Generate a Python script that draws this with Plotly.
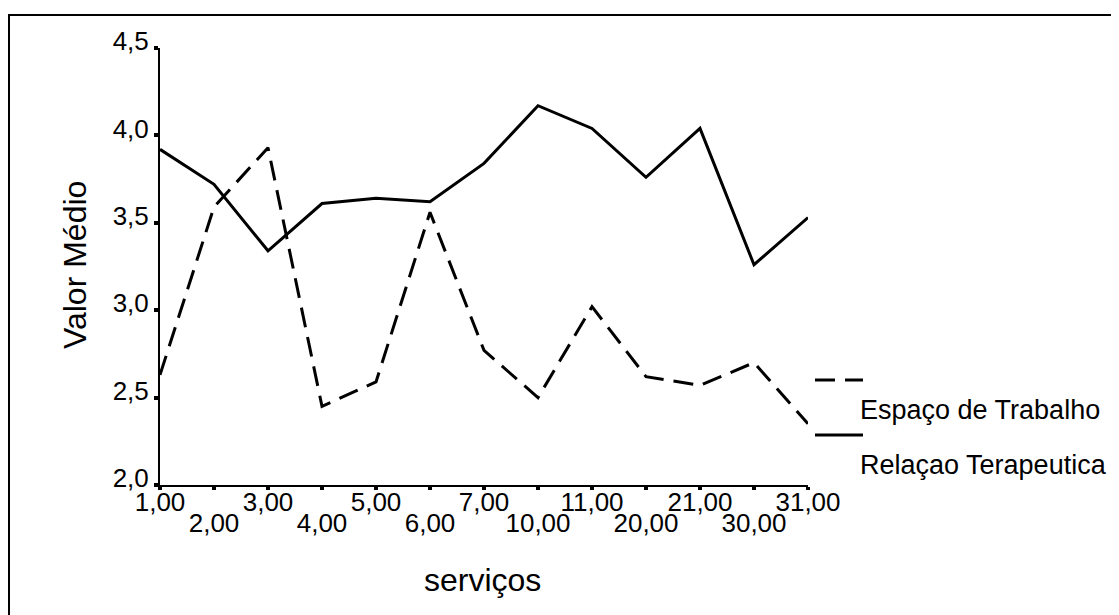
import plotly.graph_objects as go

categories = ["1,00", "2,00", "3,00", "4,00", "5,00", "6,00", "7,00",
              "10,00", "11,00", "20,00", "21,00", "30,00", "31,00"]
espaco_trabalho = [2.63, 3.59, 3.93, 2.45, 2.59, 3.56, 2.77, 2.50, 3.02, 2.62, 2.57, 2.70, 2.35]
relacao_terapeutica = [3.92, 3.72, 3.34, 3.61, 3.64, 3.62, 3.84, 4.17, 4.04, 3.76, 4.04, 3.26, 3.53]
y_tick_vals = [2.0, 2.5, 3.0, 3.5, 4.0, 4.5]
y_tick_text = ["2,0", "2,5", "3,0", "3,5", "4,0", "4,5"]
legend_names = ["Espaço de Trabalho", "Relaçao Terapeutica"]

FONT = "Liberation Sans, Arial, sans-serif"
x_idx = list(range(len(categories)))
row2_vals = [i for i in x_idx if i % 2 == 1]
row2_text = [categories[i] for i in row2_vals]
row1_text = [categories[i] if i % 2 == 0 else "" for i in x_idx]

fig = go.Figure()
fig.add_trace(go.Scatter(x=x_idx, y=espaco_trabalho, mode="lines", name=legend_names[0],
                         line=dict(color="black", width=3, dash="20px,10px"),
                         showlegend=False, xaxis="x2"))
fig.add_trace(go.Scatter(x=x_idx, y=relacao_terapeutica, mode="lines", name=legend_names[1],
                         line=dict(color="black", width=3),
                         showlegend=False))

W, H = 1119, 615
OFF = 8  # page margin around the figure in the browser window
PW, PH = 648, 437
L, T = 160 - OFF, 48 - OFF
R, B = W - L - PW, H - T - PH

def px(xp):
    return (xp - OFF - L) / PW

def py(yp):
    return (T + PH - (yp - OFF)) / PH

shapes = [
    dict(type="rect", xref="paper", yref="paper", x0=px(9), x1=px(1140), y0=py(650), y1=py(15),
         line=dict(color="black", width=2), layer="below"),
    dict(type="line", xref="paper", yref="paper", x0=px(815), x1=px(863), y0=py(380), y1=py(380),
         line=dict(color="black", width=3, dash="20px,10px")),
    dict(type="line", xref="paper", yref="paper", x0=px(815), x1=px(863), y0=py(435), y1=py(435),
         line=dict(color="black", width=3)),
]
annotations = [
    dict(xref="paper", yref="paper", x=px(858), y=py(410), text=legend_names[0], showarrow=False,
         xanchor="left", yanchor="middle", font=dict(family=FONT, size=27, color="black")),
    dict(xref="paper", yref="paper", x=px(858), y=py(465), text=legend_names[1], showarrow=False,
         xanchor="left", yanchor="middle", font=dict(family=FONT, size=27, color="black")),
    dict(xref="paper", yref="paper", x=px(75), y=py(265), text="Valor Médio", showarrow=False,
         textangle=-90, xanchor="center", yanchor="middle",
         font=dict(family=FONT, size=32, color="black")),
    dict(xref="paper", yref="paper", x=px(482), y=py(580), text="serviços", showarrow=False,
         xanchor="center", yanchor="middle", font=dict(family=FONT, size=32, color="black")),
]

fig.update_layout(
    width=W, height=H,
    margin=dict(l=L, r=R, t=T, b=B),
    paper_bgcolor="white", plot_bgcolor="white",
    font=dict(family=FONT, color="black"),
    shapes=shapes, annotations=annotations,
    xaxis=dict(range=[0, len(categories) - 1], tickvals=x_idx, ticktext=row1_text,
               tickangle=0, automargin=False, ticklabelstandoff=-10,
               showgrid=False, zeroline=False, showline=True, linecolor="black", linewidth=2,
               ticks="outside", ticklen=3, tickwidth=4, tickcolor="black",
               tickfont=dict(family=FONT, size=26)),
    xaxis2=dict(range=[0, len(categories) - 1], overlaying="x", side="bottom", anchor="y",
                tickvals=row2_vals, ticktext=row2_text, tickangle=0, automargin=False,
                showgrid=False, zeroline=False, showline=False, ticks="",
                ticklabelstandoff=20,
                tickfont=dict(family=FONT, size=26)),
    yaxis=dict(range=[2.0, 4.5], tickvals=y_tick_vals, ticktext=y_tick_text,
               automargin=False, ticklabelshift=-7,
               showgrid=False, zeroline=False, showline=True, linecolor="black", linewidth=2,
               ticks="outside", ticklen=4, tickwidth=4, tickcolor="black",
               tickfont=dict(family=FONT, size=26)),
)

fig.write_html("out.html")
